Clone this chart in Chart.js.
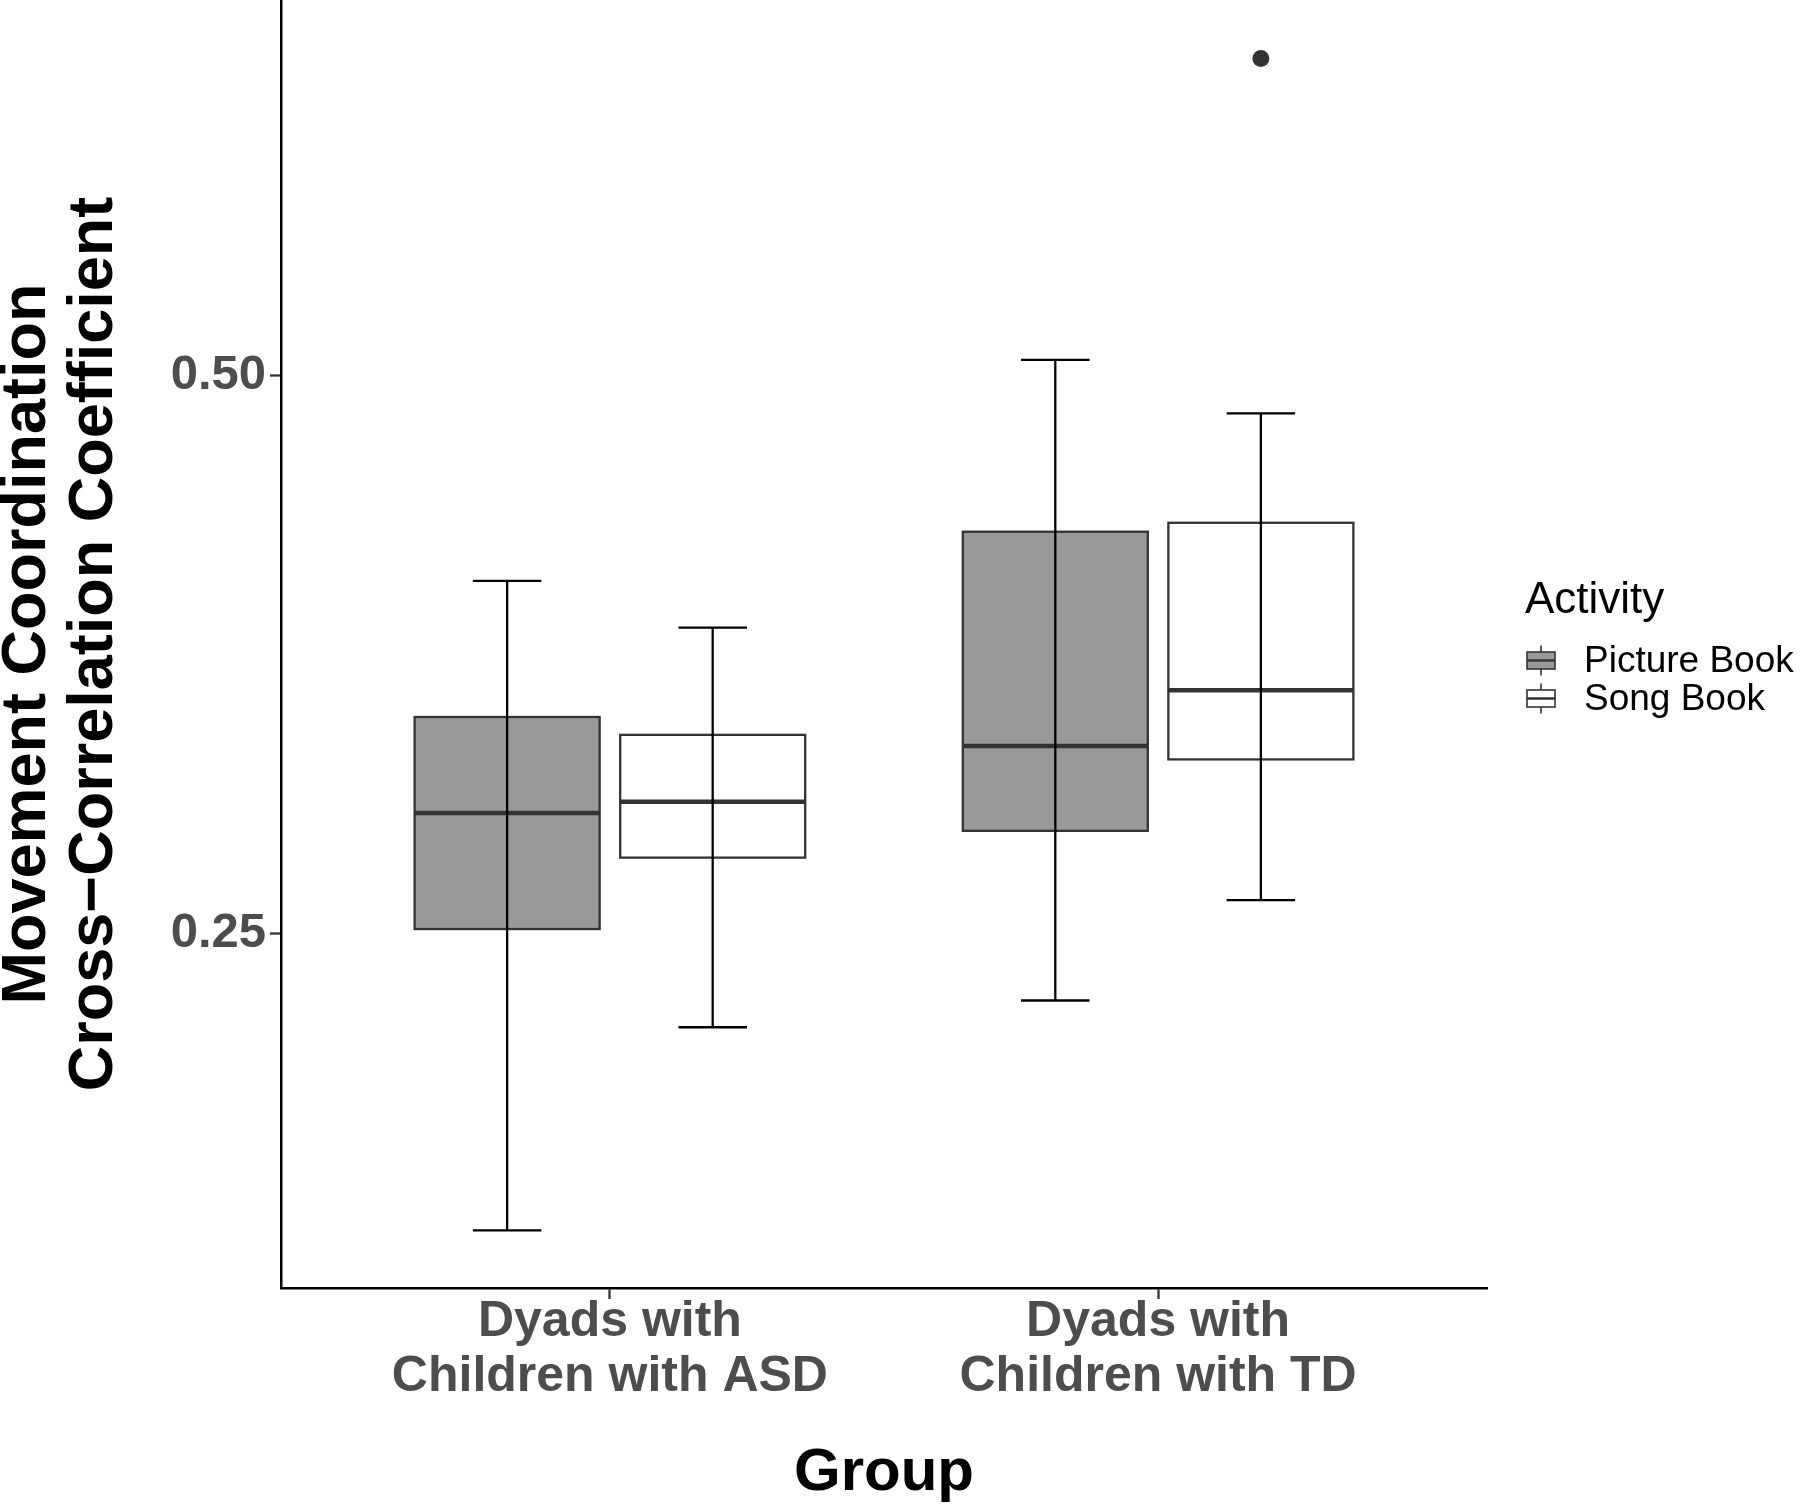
<!DOCTYPE html>
<html>
<head>
<meta charset="utf-8">
<script src="https://cdn.jsdelivr.net/npm/chart.js@4.4.1/dist/chart.umd.min.js"></script>
<style>
  html, body { margin: 0; padding: 0; background: #fff; }
  #wrap { width: 1800px; height: 1505px; }
</style>
</head>
<body>
<div id="wrap"><canvas id="boxchart" width="1800" height="1505"></canvas></div>
<script>
// groups on the x axis and the two activities
const groups = [['Dyads with', 'Children with ASD'], ['Dyads with', 'Children with TD']];
const activities = ['Picture Book', 'Song Book'];

// five number summaries, one value per group
const pictureMin    = [0.117, 0.220];
const pictureQ1     = [0.252, 0.296];
const pictureMedian = [0.304, 0.334];
const pictureQ3     = [0.347, 0.430];
const pictureMax    = [0.408, 0.507];

const songMin    = [0.208, 0.265];
const songQ1     = [0.284, 0.328];
const songMedian = [0.309, 0.359];
const songQ3     = [0.339, 0.434];
const songMax    = [0.387, 0.483];

// outliers per group
const pictureOutliers = [[], []];
const songOutliers    = [[], [0.642]];

const yTicks = [0.25, 0.50];

const series = [
  {min: pictureMin, q1: pictureQ1, med: pictureMedian, q3: pictureQ3, max: pictureMax, out: pictureOutliers, fill: '#999999'},
  {min: songMin, q1: songQ1, med: songMedian, q3: songQ3, max: songMax, out: songOutliers, fill: '#ffffff'}
];
const dodge = [-0.1875, 0.1875];
const boxHalf = 0.16875;
const capHalf = 0.0625;

Chart.defaults.font.family = '"Liberation Sans", Arial, Helvetica, sans-serif';

// boxes + whiskers, drawn through the chart's scales
const boxPlugin = {
  id: 'boxes',
  beforeDatasetsDraw(chart) {
    const {ctx, scales: {x, y}} = chart;
    ctx.save();
    series.forEach((s, si) => {
      groups.forEach((g, gi) => {
        const cx = gi + dodge[si];
        const left = x.getPixelForValue(cx - boxHalf);
        const right = x.getPixelForValue(cx + boxHalf);
        const top = y.getPixelForValue(s.q3[gi]);
        const bottom = y.getPixelForValue(s.q1[gi]);
        const med = y.getPixelForValue(s.med[gi]);
        ctx.fillStyle = s.fill;
        ctx.fillRect(left, top, right - left, bottom - top);
        ctx.strokeStyle = '#333333';
        ctx.lineWidth = 2.3;
        ctx.strokeRect(left, top, right - left, bottom - top);
        ctx.lineWidth = 4.5;
        ctx.beginPath();
        ctx.moveTo(left, med);
        ctx.lineTo(right, med);
        ctx.stroke();
        // error bar on top
        const mid = x.getPixelForValue(cx);
        const cl = x.getPixelForValue(cx - capHalf);
        const cr = x.getPixelForValue(cx + capHalf);
        const ymax = y.getPixelForValue(s.max[gi]);
        const ymin = y.getPixelForValue(s.min[gi]);
        ctx.strokeStyle = '#000000';
        ctx.lineWidth = 2.3;
        ctx.beginPath();
        ctx.moveTo(mid, ymax); ctx.lineTo(mid, ymin);
        ctx.moveTo(cl, ymax); ctx.lineTo(cr, ymax);
        ctx.moveTo(cl, ymin); ctx.lineTo(cr, ymin);
        ctx.stroke();
      });
    });
    ctx.restore();
  },
  afterDraw(chart) {
    // legend
    const ctx = chart.ctx;
    ctx.save();
    ctx.fillStyle = '#000';
    ctx.textBaseline = 'alphabetic';
    ctx.font = '44px "Liberation Sans", Arial, sans-serif';
    ctx.fillText('Activity', 1525, 613);
    ctx.font = '37px "Liberation Sans", Arial, sans-serif';
    activities.forEach((name, i) => {
      const cy = 660.5 + i * 38;
      const ix = 1527, iw = 28;
      ctx.strokeStyle = '#333333';
      ctx.lineWidth = 1.6;
      ctx.beginPath();
      ctx.moveTo(ix + iw / 2, cy - 15); ctx.lineTo(ix + iw / 2, cy + 15);
      ctx.stroke();
      ctx.fillStyle = series[i].fill;
      ctx.fillRect(ix, cy - 8.5, iw, 17);
      ctx.strokeRect(ix, cy - 8.5, iw, 17);
      ctx.lineWidth = 2.5;
      ctx.beginPath();
      ctx.moveTo(ix, cy); ctx.lineTo(ix + iw, cy);
      ctx.stroke();
      ctx.fillStyle = '#000';
      ctx.fillText(name, 1584, cy + 11.5);
    });
    ctx.restore();
  }
};

const outlierPoints = [];
series.forEach((s, si) => s.out.forEach((vals, gi) => vals.forEach(v => outlierPoints.push({x: gi + dodge[si], y: v}))));

const ctx1 = document.getElementById('boxchart');

const boxchart = new Chart(ctx1, {
  type: 'scatter',
  data: {
    datasets: [{
      label: 'outliers',
      data: outlierPoints,
      backgroundColor: '#333333',
      borderWidth: 0,
      pointRadius: 8.5
    }]
  },
  plugins: [boxPlugin],
  options: {
    responsive: false,
    animation: false,
    devicePixelRatio: 1,
    layout: {autoPadding: false, padding: {left: 0, top: 0, right: 313, bottom: 0}},
    plugins: {legend: {display: false}, tooltip: {enabled: false}},
    scales: {
      x: {
        type: 'linear',
        min: -0.6,
        max: 1.6,
        afterBuildTicks: s => { s.ticks = groups.map((g, i) => ({value: i})); },
        afterFit: s => { s.height = 217; s.paddingLeft = 0; s.paddingRight = 0; },
        ticks: {
          callback: v => groups[v],
          color: '#4D4D4D',
          font: {size: 50, weight: 'bold', lineHeight: 1.1},
          padding: -4,
          maxRotation: 0,
          autoSkip: false
        },
        grid: {drawOnChartArea: false, drawTicks: true, tickLength: 11, tickColor: '#333333', tickWidth: 2.3},
        border: {display: true, color: '#000000', width: 2.5},
        title: {
          display: true,
          text: 'Group',
          color: '#000',
          font: {size: 60, weight: 'bold', lineHeight: 1.2},
          padding: {top: 0, bottom: -4}
        }
      },
      y: {
        min: 0.0912,
        max: 0.6682,
        afterBuildTicks: s => { s.ticks = yTicks.map(v => ({value: v})); },
        afterFit: s => { s.width = 281; s.paddingTop = 0; s.paddingBottom = 0; },
        ticks: {
          callback: v => v.toFixed(2),
          color: '#4D4D4D',
          font: {size: 49, weight: 'bold'},
          padding: 4
        },
        grid: {drawOnChartArea: false, drawTicks: true, tickLength: 11, tickColor: '#333333', tickWidth: 2.3},
        border: {display: true, color: '#000000', width: 2.5},
        title: {
          display: true,
          text: ['Movement Coordination', 'Cross\u2212Correlation Coefficient'],
          color: '#000',
          font: {size: 63, weight: 'bold', lineHeight: 1.07},
          padding: {top: -6, bottom: 0}
        }
      }
    }
  }
});
</script>
</body>
</html>
